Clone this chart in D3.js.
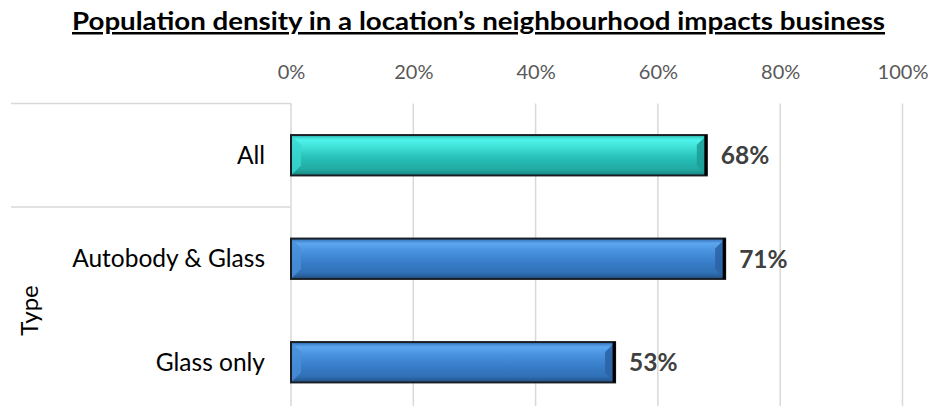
<!DOCTYPE html>
<html>
<head>
<meta charset="utf-8">
<script src="https://cdn.jsdelivr.net/npm/d3@7"></script>
<style>
  body { margin: 0; background: #fff; }
  svg { display: block; font-family: Lato, "Open Sans", sans-serif; }
</style>
</head>
<body>
<div id="chart"></div>
<script>
// data
const categories = ["All", "Autobody & Glass", "Glass only"];
const values = [0.68, 0.71, 0.53];
const xTicks = [0, 0.2, 0.4, 0.6, 0.8, 1.0];
const groupLabel = "Type";
const title = "Population density in a location\u2019s neighbourhood impacts business";

const width = 930, height = 406;
const plotLeft = 291, plotRight = 902.5, plotTop = 103.5, plotBottom = 414;

const svg = d3.select("#chart").append("svg")
  .attr("width", width)
  .attr("height", height);

const defs = svg.append("defs");

function barGradient(id, stops) {
  const g = defs.append("linearGradient")
    .attr("id", id)
    .attr("x1", 0).attr("y1", 0).attr("x2", 0).attr("y2", 1);
  stops.forEach(s => g.append("stop").attr("offset", s[0]).attr("stop-color", s[1]));
}
barGradient("gTeal", [[0, "#2fbdb5"], [0.12, "#4ef3ea"], [0.3, "#3fe0d6"], [0.55, "#27c1b9"], [0.85, "#21aaa3"], [1, "#1a8580"]]);
barGradient("gBlue", [[0, "#2f6fb5"], [0.12, "#5da6ef"], [0.3, "#4a93e0"], [0.55, "#3a80cc"], [0.85, "#3070b5"], [1, "#234f84"]]);

// scales
const x = d3.scaleLinear().domain([0, 1]).range([plotLeft, plotRight]);
const y = d3.scaleBand().domain(categories).range([plotTop, plotBottom]).paddingInner(0.61).paddingOuter(0.305);

// gridlines
svg.append("g")
  .selectAll("line")
  .data(xTicks)
  .join("line")
    .attr("x1", d => x(d)).attr("x2", d => x(d))
    .attr("y1", plotTop).attr("y2", height)
    .attr("stroke", "#d9d9d9")
    .attr("stroke-width", 1.5);

// top axis
const xAxis = svg.append("g")
  .attr("transform", "translate(0,75.6)")
  .call(d3.axisTop(x).tickValues(xTicks).tickFormat(d3.format(".0%")).tickSize(0));
xAxis.select(".domain").remove();
xAxis.selectAll("text")
  .attr("fill", "#595959")
  .style("font-size", "20px")
  .style("font-family", "Lato, sans-serif")
  .attr("dy", "0.32em");

// category axis frame
const frame = svg.append("g").attr("stroke", "#d9d9d9").attr("stroke-width", 1.5);
frame.append("line").attr("x1", 11).attr("x2", plotLeft).attr("y1", plotTop).attr("y2", plotTop);
const divY = y("Autobody & Glass") - y.step() * y.paddingInner() / 2;
frame.append("line").attr("x1", 11).attr("x2", plotLeft).attr("y1", divY).attr("y2", divY);

// category labels
svg.append("g")
  .selectAll("text")
  .data(categories)
  .join("text")
    .attr("x", 265)
    .attr("y", d => y(d) + y.bandwidth() / 2)
    .attr("dy", "0.35em")
    .attr("text-anchor", "end")
    .attr("fill", "#000")
    .style("font-size", "24.5px")
    .text(d => d);

// group label
svg.append("text")
  .attr("transform", `translate(38,${(divY + plotBottom) / 2}) rotate(-90)`)
  .attr("text-anchor", "middle")
  .attr("fill", "#000")
  .style("font-size", "24px")
  .text(groupLabel);

// bars
const bars = svg.append("g")
  .selectAll("g")
  .data(categories.map((c, i) => ({ c, v: values[i], i })))
  .join("g");

bars.append("rect")
  .attr("x", x(0))
  .attr("y", d => y(d.c))
  .attr("width", d => x(d.v) - x(0))
  .attr("height", y.bandwidth())
  .attr("fill", d => d.i === 0 ? "url(#gTeal)" : "url(#gBlue)")
  .attr("stroke", "#1a1f26")
  .attr("stroke-width", 2);

// bevel at ends
const bev = 9;
bars.append("path")
  .attr("d", d => {
    const x0 = x(0) + 1, y0 = y(d.c) + 1, h = y.bandwidth() - 2;
    return `M${x0},${y0}L${x0 + bev},${y0 + bev}L${x0 + bev},${y0 + h - bev}L${x0},${y0 + h}Z`;
  })
  .attr("fill", d => d.i === 0 ? "#3ad8cf" : "#4a8fd8")
  .attr("opacity", 0.8);
bars.append("path")
  .attr("d", d => {
    const x1 = x(d.v) - 1, y0 = y(d.c) + 1, h = y.bandwidth() - 2;
    return `M${x1},${y0}L${x1 - bev},${y0 + bev}L${x1 - bev},${y0 + h - bev}L${x1},${y0 + h}Z`;
  })
  .attr("fill", d => d.i === 0 ? "#1c9e97" : "#2a62a3")
  .attr("opacity", 0.85);
bars.append("line")
  .attr("x1", d => x(d.v) - 1).attr("x2", d => x(d.v) - 1)
  .attr("y1", d => y(d.c)).attr("y2", d => y(d.c) + y.bandwidth())
  .attr("stroke", "#000").attr("stroke-width", 3);

// value labels
bars.append("text")
  .attr("x", d => x(d.v) + 14)
  .attr("y", d => y(d.c) + y.bandwidth() / 2)
  .attr("dy", "0.36em")
  .attr("fill", "#404040")
  .style("font-size", "24.5px")
  .style("font-weight", "bold")
  .text(d => d3.format(".0%")(d.v));

// title
svg.append("text")
  .attr("x", 72)
  .attr("y", 30)
  .attr("textLength", 813)
  .attr("lengthAdjust", "spacingAndGlyphs")
  .attr("fill", "#000")
  .style("font-size", "25px")
  .style("font-weight", "bold")
  .style("text-decoration", "underline")
  .text(title);
</script>
</body>
</html>
